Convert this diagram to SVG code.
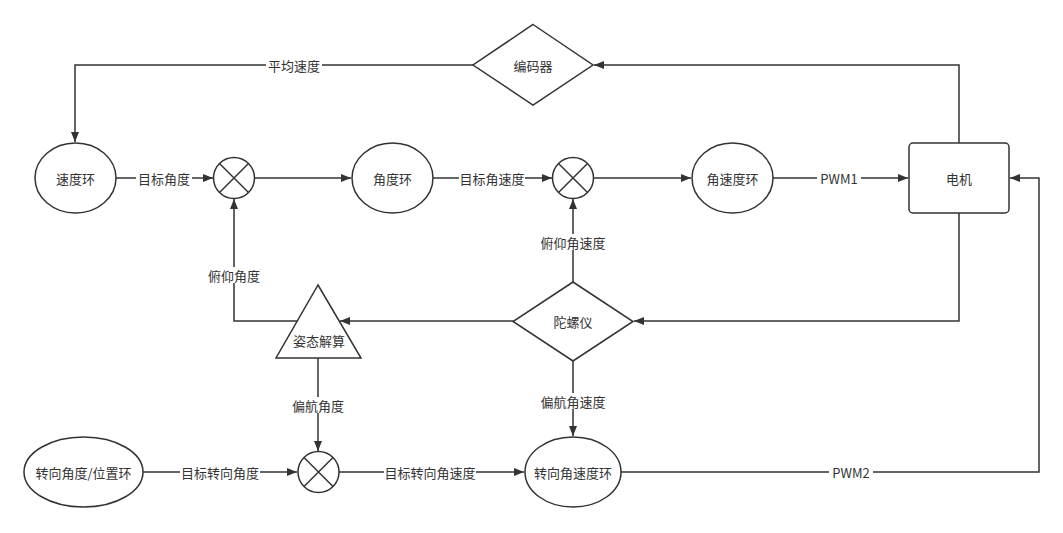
<svg xmlns="http://www.w3.org/2000/svg" width="1063" height="533" viewBox="0 0 1063 533">
<style>
.s{fill:#ffffff;stroke:#333333;stroke-width:1.5}
.e{fill:none;stroke:#333333;stroke-width:1.5}
.t{font-family:"Noto Sans CJK SC","Noto Sans",sans-serif;font-size:13px;fill:#333333;text-anchor:middle;dominant-baseline:central}
.bg{fill:#ffffff}
</style>
<defs>
<marker id="a" markerUnits="userSpaceOnUse" markerWidth="12" markerHeight="10" refX="10" refY="4" orient="auto">
<path d="M0,0 L10,4 L0,8 z" fill="#333333"/>
</marker>
</defs>
<rect width="1063" height="533" fill="#ffffff"/>
<g id="connectors">
<path class="e" d="M473,65 L75,65 L75,142" marker-end="url(#a)"/>
<path class="e" d="M116,178 L213,178" marker-end="url(#a)"/>
<path class="e" d="M254.5,178 L351,178" marker-end="url(#a)"/>
<path class="e" d="M433,178 L552,178" marker-end="url(#a)"/>
<path class="e" d="M593.5,178 L691,178" marker-end="url(#a)"/>
<path class="e" d="M773,178 L908,178" marker-end="url(#a)"/>
<path class="e" d="M959,143 L959,65 L594,65" marker-end="url(#a)"/>
<path class="e" d="M959,213 L959,321 L634,321" marker-end="url(#a)"/>
<path class="e" d="M513,321 L340,321" marker-end="url(#a)"/>
<path class="e" d="M297,321 L234,321 L234,199" marker-end="url(#a)"/>
<path class="e" d="M573,282 L573,199" marker-end="url(#a)"/>
<path class="e" d="M318,358 L318,451" marker-end="url(#a)"/>
<path class="e" d="M573,361 L573,436" marker-end="url(#a)"/>
<path class="e" d="M143,472 L297,472" marker-end="url(#a)"/>
<path class="e" d="M339,472 L524,472" marker-end="url(#a)"/>
<path class="e" d="M621,472 L1039,472 L1039,178 L1010,178" marker-end="url(#a)"/>
<g id="edge-labels">
<rect class="bg" x="266" y="57" width="56" height="16"/><text class="t" x="294" y="65">平均速度</text>
<rect class="bg" x="136" y="170" width="56" height="16"/><text class="t" x="164" y="178">目标角度</text>
<rect class="bg" x="459" y="170" width="66" height="16"/><text class="t" x="492" y="178">目标角速度</text>
<rect class="bg" x="817" y="170" width="44" height="16"/><text class="t" x="839" y="178">PWM1</text>
<rect class="bg" x="206" y="267" width="56" height="16"/><text class="t" x="234" y="275">俯仰角度</text>
<rect class="bg" x="540" y="234" width="66" height="16"/><text class="t" x="573" y="242">俯仰角速度</text>
<rect class="bg" x="290" y="397" width="56" height="16"/><text class="t" x="318" y="405">偏航角度</text>
<rect class="bg" x="540" y="393" width="66" height="16"/><text class="t" x="573" y="401">偏航角速度</text>
<rect class="bg" x="180" y="464" width="80" height="16"/><text class="t" x="220" y="472">目标转向角度</text>
<rect class="bg" x="384" y="464" width="92" height="16"/><text class="t" x="430" y="472">目标转向角速度</text>
<rect class="bg" x="829" y="464" width="44" height="16"/><text class="t" x="851" y="472">PWM2</text>
</g>
</g>
<g id="speed-loop"><ellipse class="s" cx="75.5" cy="178" rx="40.5" ry="35"/><text class="t" x="75.5" y="178">速度环</text></g>
<g id="sum1"><circle class="s" cx="234" cy="178" r="20.5"/><path class="e" d="M219.5,163.5 L248.5,192.5 M248.5,163.5 L219.5,192.5"/></g>
<g id="angle-loop"><ellipse class="s" cx="392.5" cy="178" rx="40.5" ry="35"/><text class="t" x="392.5" y="178">角度环</text></g>
<g id="sum2"><circle class="s" cx="573" cy="178" r="20.5"/><path class="e" d="M558.5,163.5 L587.5,192.5 M587.5,163.5 L558.5,192.5"/></g>
<g id="angvel-loop"><ellipse class="s" cx="732.5" cy="178" rx="40.5" ry="35"/><text class="t" x="732.5" y="178">角速度环</text></g>
<g id="motor"><rect class="s" x="909" y="143" width="100" height="70" rx="4"/><text class="t" x="959" y="178">电机</text></g>
<g id="encoder"><polygon class="s" points="533,24.5 593,65 533,105 473,65"/><text class="t" x="533" y="65">编码器</text></g>
<g id="gyro"><polygon class="s" points="573,282 633,321.5 573,361 513,321.5"/><text class="t" x="573" y="321.5">陀螺仪</text></g>
<g id="attitude"><polygon class="s" points="318,285 361,358 276,358"/><text class="t" x="319" y="340">姿态解算</text></g>
<g id="yaw-pos-loop"><ellipse class="s" cx="83.5" cy="472" rx="59.5" ry="35"/><text class="t" x="83.5" y="472">转向角度/位置环</text></g>
<g id="sum3"><circle class="s" cx="318.5" cy="472" r="20.5"/><path class="e" d="M304,457.5 L333,486.5 M333,457.5 L304,486.5"/></g>
<g id="yaw-rate-loop"><ellipse class="s" cx="573" cy="472" rx="48" ry="35"/><text class="t" x="573" y="472">转向角速度环</text></g>
</svg>
